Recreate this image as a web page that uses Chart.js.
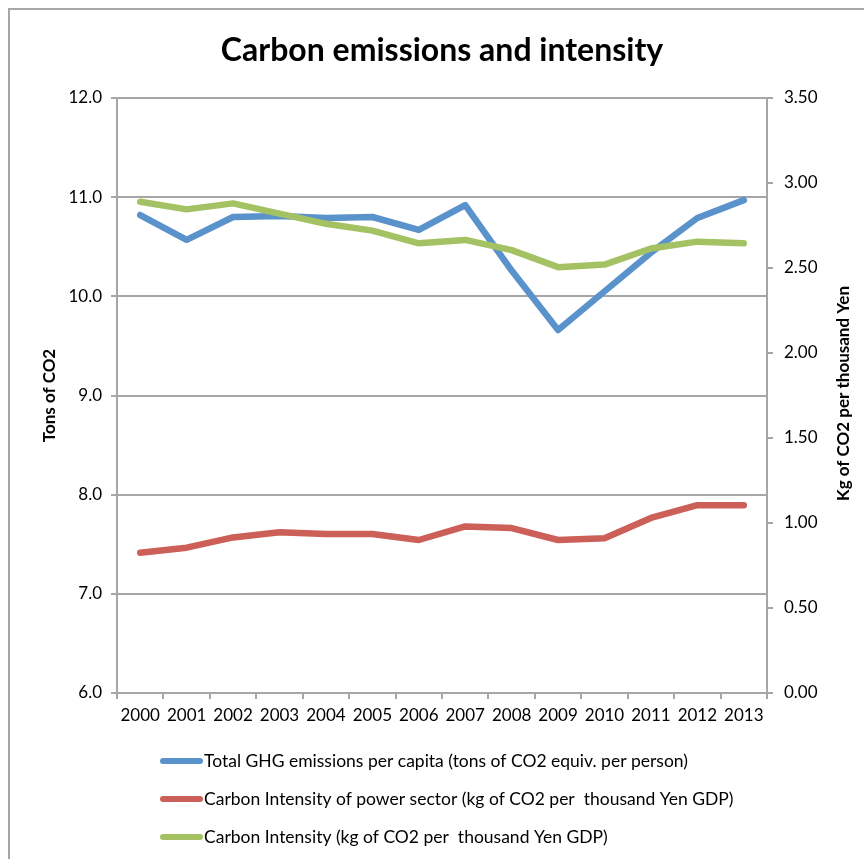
<!DOCTYPE html>
<html>
<head>
<meta charset="utf-8">
<script src="https://cdn.jsdelivr.net/npm/chart.js@4.4.1/dist/chart.umd.min.js"></script>
<style>
  html, body { margin: 0; padding: 0; background: #fff; }
  #wrap { width: 864px; height: 859px; position: relative; }
</style>
</head>
<body>
<div id="wrap"><canvas id="c" width="864" height="859"></canvas></div>
<script>
// Years on the category axis
const years = ['2000', '2001', '2002', '2003', '2004', '2005', '2006',
               '2007', '2008', '2009', '2010', '2011', '2012', '2013'];

// Total GHG emissions per capita, tons of CO2 equiv. per person (left axis)
const ghgPerCapita = [10.82, 10.57, 10.80, 10.81, 10.79, 10.80, 10.67,
                      10.92, 10.26, 9.66, 10.05, 10.44, 10.79, 10.97];

// Carbon intensity of the power sector, kg CO2 per thousand Yen GDP (right axis)
const powerIntensity = [0.825, 0.855, 0.915, 0.945, 0.935, 0.935, 0.900,
                        0.980, 0.970, 0.900, 0.910, 1.030, 1.105, 1.105];

// Economy-wide carbon intensity, kg CO2 per thousand Yen GDP (right axis)
const carbonIntensity = [2.890, 2.845, 2.880, 2.820, 2.760, 2.720, 2.645,
                         2.665, 2.605, 2.505, 2.520, 2.615, 2.655, 2.645];

// Axis tick values
const tonsTicks = [6, 7, 8, 9, 10, 11, 12];
const kgTicks = [0, 0.5, 1, 1.5, 2, 2.5, 3, 3.5];

const seriesNames = [
  'Total GHG emissions per capita (tons of CO2 equiv. per person)',
  'Carbon Intensity of power sector (kg of CO2 per  thousand Yen GDP)',
  'Carbon Intensity (kg of CO2 per  thousand Yen GDP)'
];
const seriesColors = ['#5A93CB', '#CC5F57', '#A4C263'];

const chartTitle = 'Carbon emissions and intensity';
const leftTitle = 'Tons of CO2';
const rightTitle = 'Kg of CO2 per thousand Yen';

const FONT = 'Lato, "Open Sans", sans-serif';
const GRID = '#A6A6A6';

// Frame, titles and the stacked legend
const decor = {
  id: 'decor',
  beforeDraw(chart) {
    const ctx = chart.ctx;
    ctx.save();
    ctx.fillStyle = '#ffffff';
    ctx.fillRect(0, 0, chart.width, chart.height);
    ctx.strokeStyle = GRID;
    ctx.lineWidth = 2;
    ctx.strokeRect(9, 9, chart.width + 20, chart.height + 20);
    ctx.restore();
  },
  afterDraw(chart) {
    const ctx = chart.ctx;
    const area = chart.chartArea;
    const midY = (area.top + area.bottom) / 2;
    ctx.save();
    ctx.fillStyle = '#000';
    ctx.textBaseline = 'middle';

    ctx.textAlign = 'center';
    ctx.font = 'bold 32px ' + FONT;
    ctx.fillText(chartTitle, 442, 51);

    ctx.font = 'bold 17px ' + FONT;
    ctx.save();
    ctx.translate(50, midY);
    ctx.rotate(-Math.PI / 2);
    ctx.fillText(leftTitle, 0, 0);
    ctx.restore();

    ctx.save();
    ctx.translate(844, midY - 2);
    ctx.rotate(-Math.PI / 2);
    ctx.fillText(rightTitle, 0, 0);
    ctx.restore();

    ctx.textAlign = 'left';
    ctx.font = '17.5px ' + FONT;
    const rows = [761, 799, 837];
    seriesNames.forEach((name, i) => {
      const y = rows[i];
      ctx.strokeStyle = seriesColors[i];
      ctx.lineWidth = 6;
      ctx.lineCap = 'round';
      ctx.beginPath();
      ctx.moveTo(163, y);
      ctx.lineTo(200, y);
      ctx.stroke();
      ctx.fillText(name, 204, y);
    });
    ctx.restore();
  }
};

const lineStyle = {
  borderWidth: 6.5,
  pointRadius: 0,
  pointHoverRadius: 0,
  tension: 0,
  fill: false,
  borderJoinStyle: 'round',
  borderCapStyle: 'round'
};

new Chart(document.getElementById('c'), {
  type: 'line',
  data: {
    labels: years,
    datasets: [
      Object.assign({ label: seriesNames[0], data: ghgPerCapita, yAxisID: 'y',
        borderColor: seriesColors[0], backgroundColor: seriesColors[0], order: 2 }, lineStyle),
      Object.assign({ label: seriesNames[1], data: powerIntensity, yAxisID: 'y2',
        borderColor: seriesColors[1], backgroundColor: seriesColors[1], order: 1 }, lineStyle),
      Object.assign({ label: seriesNames[2], data: carbonIntensity, yAxisID: 'y2',
        borderColor: seriesColors[2], backgroundColor: seriesColors[2], order: 0 }, lineStyle)
    ]
  },
  options: {
    responsive: false,
    animation: false,
    devicePixelRatio: 1,
    layout: { padding: { top: 98, left: 0, right: 0, bottom: 0 } },
    plugins: {
      legend: { display: false },
      title: { display: false },
      tooltip: { enabled: false }
    },
    scales: {
      x: {
        type: 'category',
        offset: true,
        grid: { offset: true, drawOnChartArea: false, color: GRID, lineWidth: 2, tickLength: 6 },
        border: { color: GRID, width: 2 },
        ticks: { color: '#000', font: { family: FONT, size: 17 }, padding: 6,
                 maxRotation: 0, autoSkip: false },
        afterFit(s) { s.height = 166; }
      },
      y: {
        position: 'left',
        min: tonsTicks[0],
        max: tonsTicks[tonsTicks.length - 1],
        afterBuildTicks(s) { s.ticks = tonsTicks.map(v => ({ value: v })); },
        ticks: { color: '#000', font: { family: FONT, size: 17 }, padding: 9,
                 callback: v => Number(v).toFixed(1) },
        grid: { color: GRID, lineWidth: 2, tickLength: 6 },
        border: { color: GRID, width: 2 },
        afterFit(s) { s.width = 117; }
      },
      y2: {
        position: 'right',
        min: kgTicks[0],
        max: kgTicks[kgTicks.length - 1],
        afterBuildTicks(s) { s.ticks = kgTicks.map(v => ({ value: v })); },
        ticks: { color: '#000', font: { family: FONT, size: 17 }, padding: 11,
                 callback: v => Number(v).toFixed(2) },
        grid: { drawOnChartArea: false, color: GRID, lineWidth: 2, tickLength: 6 },
        border: { color: GRID, width: 2 },
        afterFit(s) { s.width = 97; }
      }
    }
  },
  plugins: [decor]
});
</script>
</body>
</html>
